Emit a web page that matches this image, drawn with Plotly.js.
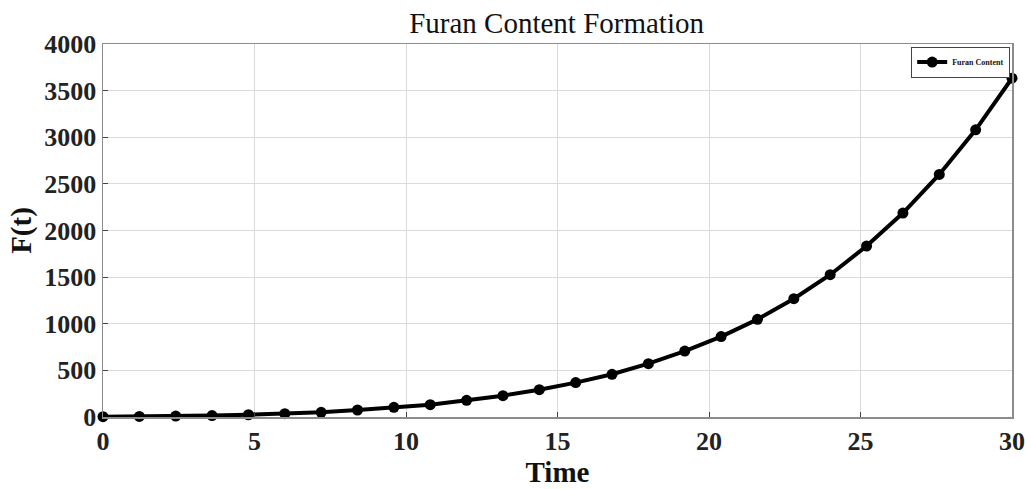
<!DOCTYPE html>
<html>
<head>
<meta charset="utf-8">
<script src="https://cdn.plot.ly/plotly-3.0.1.min.js"></script>
<style>html,body{margin:0;padding:0;background:#fff;}#chart{width:1025px;height:489px;}</style>
</head>
<body>
<div id="chart"></div>
<script>
const timeValues = [0, 1.2, 2.4, 3.6, 4.8, 6.0, 7.2, 8.4, 9.6, 10.8, 12.0, 13.2, 14.4, 15.6, 16.8, 18.0, 19.2, 20.4, 21.6, 22.8, 24.0, 25.2, 26.4, 27.6, 28.8, 30.0];
const furanValues = [4, 6, 10, 15, 24, 36, 50, 75, 104, 132, 179, 229, 293, 369, 458, 572, 707, 862, 1047, 1269, 1526, 1833, 2187, 2601, 3080, 3633];
const xTicks = [0, 5, 10, 15, 20, 25, 30];
const yTicks = [0, 500, 1000, 1500, 2000, 2500, 3000, 3500, 4000];
const seriesName = 'Furan Content';

const serif = 'Liberation Serif, Times New Roman, serif';
const trace = {
  x: timeValues, y: furanValues, name: seriesName,
  type: 'scatter', mode: 'lines+markers', cliponaxis: false,
  line: {color: '#000', width: 4},
  marker: {color: '#000', size: 11}
};
const axisCommon = {
  showgrid: true, gridcolor: '#dadada', gridwidth: 1,
  showline: true, linecolor: '#8c8c8c', linewidth: 1.5, mirror: true,
  ticks: 'inside', ticklen: 5, tickcolor: '#444',
  zeroline: false,
  tickfont: {family: serif, size: 26, color: '#222', weight: 'bold'}
};
const layout = {
  width: 1025, height: 489,
  margin: {l: 103, r: 13, t: 44, b: 72},
  paper_bgcolor: '#fff', plot_bgcolor: '#fff',
  title: {text: 'Furan Content Formation', font: {family: serif, size: 29, color: '#111'}, x: 0.543, xanchor: 'center', y: 0.975, yanchor: 'top'},
  xaxis: Object.assign({}, axisCommon, {range: [0, 30], tickvals: xTicks, ticktext: xTicks.map(String), ticklabelstandoff: 0,
    title: {text: 'Time', font: {family: serif, size: 29, color: '#111', weight: 'bold'}, standoff: 0}}),
  yaxis: Object.assign({}, axisCommon, {range: [0, 4000], tickvals: yTicks, ticktext: yTicks.map(String),
    title: {text: 'F(t)', font: {family: serif, size: 29, color: '#111', weight: 'bold'}, standoff: 4}}),
  showlegend: true,
  legend: {x: 0.998, y: 0.993, xanchor: 'right', yanchor: 'top', bgcolor: '#fff', bordercolor: '#444', borderwidth: 1,
    font: {family: serif, size: 8, color: '#111', weight: 'bold'}, itemwidth: 30, tracegroupgap: 0}
};
Plotly.newPlot('chart', [trace], layout, {displayModeBar: false, staticPlot: true});
</script>
</body>
</html>
